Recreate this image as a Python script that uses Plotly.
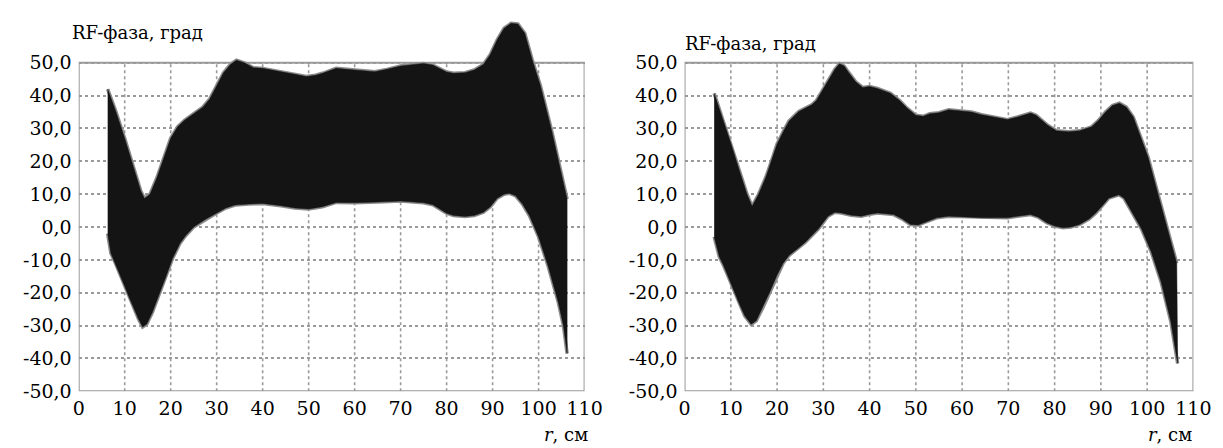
import plotly.graph_objects as go

# ---- data ----
x_ticks = [0, 10, 20, 30, 40, 50, 60, 70, 80, 90, 100, 110]
y_ticks = [-50, -40, -30, -20, -10, 0, 10, 20, 30, 40, 50]
y_tick_labels = ["-50,0", "-40,0", "-30,0", "-20,0", "-10,0", "0,0",
                 "10,0", "20,0", "30,0", "40,0", "50,0"]

# left panel: upper envelope
r_up_1 = [6.3, 8, 10, 12, 13.5, 14.3, 15.5, 17, 18.5, 20, 21.5, 23, 25, 27, 28.5, 30,
          31.5, 33, 34.3, 36, 38, 40, 42, 44.5, 47, 49.5, 51.5, 53, 56, 60, 64.4, 67,
          70, 73, 75, 77, 78.6, 80, 81.5, 84, 86, 88, 89.5, 91, 92.5, 94, 95.5, 97,
          98.6, 100.4, 102.9, 105, 106.2]
v_up_1 = [42, 35.5, 27, 18, 11, 8.7, 10, 15, 21, 27, 30.5, 32.5, 34.5, 36.5, 39, 43,
          47, 49.5, 50.8, 50, 48.5, 48.3, 47.8, 47.3, 46.5, 45.8, 46.2, 46.8, 48.3, 47.8,
          47.3, 48, 49, 49.5, 49.8, 49.3, 48.3, 47.2, 46.8, 47, 47.8, 49.5, 52.5, 57,
          60.5, 62, 61.8, 59, 51, 43, 29, 16, 8.5]
# left panel: lower envelope
r_lo_1 = [6.3, 7, 8, 9, 10, 11, 12, 13, 13.9, 14.8, 16, 17.5, 19, 20.4, 22, 23.2, 25,
          27.5, 30, 32, 34, 37, 40, 44, 47, 50, 53, 56, 60, 65, 70, 75, 77, 78.6, 80,
          81.5, 84, 86, 88, 89.5, 91, 92.5, 93.6, 95, 96.5, 98, 100, 102.1, 104.3,
          105.4, 106.2]
v_lo_1 = [-2, -8, -11, -14.5, -18, -21.5, -25, -28, -30.4, -29.5, -26, -20.5, -15,
          -9.6, -5, -2.7, 0, 2.3, 4.3, 5.8, 6.7, 7, 7.2, 6.5, 5.8, 5.5, 6.2, 7.5, 7.4,
          7.6, 7.9, 7.4, 6.8, 5.4, 4.2, 3.5, 3.2, 3.5, 4.5, 6.2, 8.8, 10, 10.3, 9.5, 7,
          3.5, -3, -12, -23, -30, -38.5]

# right panel: upper envelope
r_up_2 = [6.4, 8, 10, 12, 13.5, 14.6, 16, 17.6, 19, 20, 21.5, 22.6, 24.7, 27.5, 28.5,
          29.6, 31, 32.5, 33.5, 34.5, 35.5, 37, 38.5, 40, 41.7, 43, 44.5, 46.5, 48.1,
          50, 51.6, 53, 55, 57.1, 60, 62, 64.2, 67, 69.8, 72, 74.8, 76, 77, 78.5, 80.4,
          83, 85.4, 88, 89.5, 91, 92.5, 94, 95.5, 97, 98.1, 100.2, 102.3, 104.5, 106.4]
v_up_2 = [40.7, 34, 25.5, 16.5, 10, 6.3, 10, 15.3, 21, 25.3, 29.5, 32.3, 35.2, 37.2,
          38.5, 41.2, 44.5, 48, 49.7, 49, 47, 44.2, 42.5, 42.8, 42.2, 41.5, 40.7, 38.5,
          36.2, 34, 33.7, 34.5, 34.8, 35.7, 35.2, 35, 34.2, 33.5, 32.7, 33.5, 34.7, 34,
          32.7, 31, 29.3, 29, 29.3, 30.5, 32.5, 35, 37, 37.7, 36.5, 33.5, 29.3, 21.3,
          10.3, -1.6, -11]
# right panel: lower envelope
r_lo_2 = [6.4, 7.5, 8.4, 9.9, 11.9, 13, 14.4, 15.5, 16.9, 18.5, 20, 21.3, 22.6, 24.5,
          26.1, 28.9, 31, 32.5, 33.9, 36, 38.2, 40, 41.7, 45.2, 47, 48.8, 50.5, 51.6,
          54.5, 57.1, 60, 64.2, 69.8, 72, 74.8, 76.5, 78.3, 80, 81.8, 83.5, 85.4, 87.5,
          88.9, 90.5, 91.7, 93.9, 95, 96, 97.5, 98.8, 100.9, 103, 105.1, 106.6]
v_lo_2 = [-3, -9, -11.6, -16.6, -23.6, -27, -29.6, -28.5, -24.6, -19.5, -14.6, -11,
          -8.6, -6.5, -4.6, -0.6, 3.3, 4.5, 4.3, 3.6, 3.3, 3.9, 4.3, 3.8, 2.5, 0.8, 0.6,
          1.3, 2.8, 3.3, 3.2, 2.8, 2.8, 3.3, 3.8, 3, 1.3, 0.3, -0.2, 0, 0.8, 2.5, 4.3,
          6.8, 8.8, 9.8, 8.8, 6.3, 2.5, -0.6, -7.6, -16.6, -28.6, -41.5]

panels = [
    (r_up_1, v_up_1, r_lo_1, v_lo_1),
    (r_up_2, v_up_2, r_lo_2, v_lo_2),
]

W, H = 1223, 448
x_domains = [[66 / W, 582 / W], [684 / W, 1203 / W]]
y_domain = [1 - 393 / H, 1 - 9 / H]
y_range = [-50, 64]

FONT = "DejaVu Serif"
GRID = "#9a9a9a"

fig = go.Figure()
shapes = []
for i, (ru, vu, rl, vl) in enumerate(panels):
    xa = "x" if i == 0 else "x2"
    ya = "y" if i == 0 else "y2"
    fig.add_trace(go.Scatter(x=ru, y=vu, xaxis=xa, yaxis=ya, mode="lines",
                             line=dict(color="#8c8c8c", width=3.5), hoverinfo="skip",
                             showlegend=False))
    fig.add_trace(go.Scatter(x=rl, y=vl, xaxis=xa, yaxis=ya, mode="lines",
                             line=dict(color="#8c8c8c", width=3.5), hoverinfo="skip",
                             showlegend=False))
    fig.add_trace(go.Scatter(x=list(ru) + list(rl)[::-1], y=list(vu) + list(vl)[::-1],
                             xaxis=xa, yaxis=ya, mode="lines", fill="toself",
                             fillcolor="#141414", line=dict(color="#141414", width=0.5),
                             hoverinfo="skip", showlegend=False))
    for xv in x_ticks[1:-1]:
        shapes.append(dict(type="line", xref=xa, yref=ya, x0=xv, x1=xv,
                           y0=y_ticks[0], y1=y_ticks[-1], layer="below",
                           line=dict(color=GRID, width=1.6, dash="dot")))
    shapes.append(dict(type="rect", xref=xa, yref=ya, x0=x_ticks[0], x1=x_ticks[-1],
                       y0=y_ticks[0], y1=y_ticks[-1], layer="below",
                       line=dict(color="#9a9a9a", width=2)))

axis_font = dict(family=FONT, size=19, color="black")
for i in range(2):
    sfx = "" if i == 0 else "2"
    fig.layout["xaxis" + sfx] = dict(
        domain=x_domains[i], range=[x_ticks[0], x_ticks[-1]], tickmode="array",
        tickvals=x_ticks, ticktext=[str(t) for t in x_ticks], showgrid=False,
        zeroline=False, showline=False, ticks="", tickfont=axis_font,
        ticklabelstandoff=4, anchor="y" + sfx, fixedrange=True)
    fig.layout["yaxis" + sfx] = dict(
        domain=y_domain, range=y_range, tickmode="array", tickvals=y_ticks,
        ticktext=y_tick_labels, showgrid=True, gridcolor=GRID, gridwidth=1.6,
        griddash="dot", zeroline=False, showline=False, ticks="", tickfont=axis_font,
        ticklabelstandoff=6, anchor="x" + sfx, fixedrange=True)

title_font = dict(family=FONT, size=18, color="black")
annotations = [
    dict(text="RF-фаза, град", x=57 / W, y=1 - 25 / H, xref="paper", yref="paper",
         xanchor="left", yanchor="middle", showarrow=False, font=title_font),
    dict(text="RF-фаза, град", x=682 / W, y=1 - 36 / H, xref="paper", yref="paper",
         xanchor="left", yanchor="middle", showarrow=False, font=title_font),
    dict(text="<i>r</i>, см", x=588 / W, y=1 - 437 / H, xref="paper", yref="paper",
         xanchor="right", yanchor="middle", showarrow=False, font=title_font),
    dict(text="<i>r</i>, см", x=1204 / W, y=1 - 437 / H, xref="paper", yref="paper",
         xanchor="right", yanchor="middle", showarrow=False, font=title_font),
]

fig.update_layout(width=W, height=H, margin=dict(l=0, r=0, t=0, b=0),
                  paper_bgcolor="white", plot_bgcolor="white", shapes=shapes,
                  annotations=annotations, showlegend=False,
                  font=dict(family=FONT))

fig.write_html("out.html")
